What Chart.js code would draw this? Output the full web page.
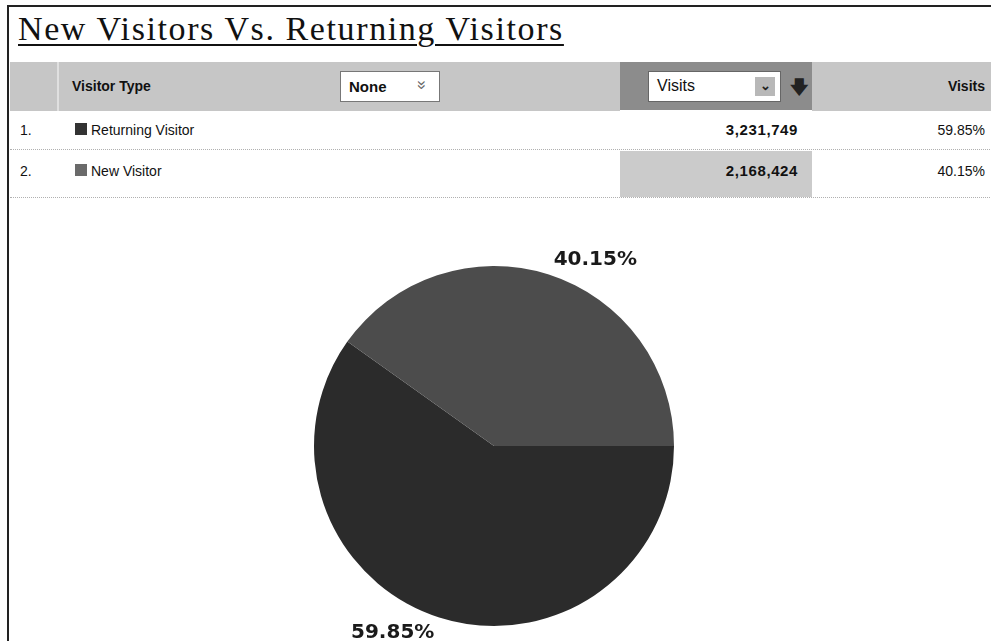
<!DOCTYPE html>
<html>
<head>
<meta charset="utf-8">
<script src="https://cdn.jsdelivr.net/npm/chart.js@4"></script>
<style>
  html, body { margin: 0; padding: 0; background: #fff; width: 991px; height: 641px; overflow: hidden; }
  body { position: relative; font-family: "Liberation Sans", Arial, sans-serif; color: #111; }
  .frame { position: absolute; left: 7px; top: 5px; width: 1000px; height: 700px; border: 2px solid #222; box-sizing: border-box; }
  .title { position: absolute; left: 18px; top: 10px; font-family: "Liberation Serif", "Times New Roman", serif; font-size: 34px; letter-spacing: 1.6px; text-decoration: underline; text-decoration-thickness: 2px; text-underline-offset: 4px; white-space: nowrap; color: #111; }
  .head { position: absolute; left: 10px; top: 62px; width: 990px; height: 49px; background: #c6c6c6; }
  .head .sep { position: absolute; left: 47px; top: 0; width: 2px; height: 49px; background: #e0e0e0; }
  .head .vt { position: absolute; left: 62px; top: 16px; font-weight: bold; font-size: 14px; }
  .sel { position: absolute; background: #fff; border: 1px solid #777; box-sizing: border-box; font-size: 16px; }
  .head .dark { position: absolute; left: 610px; top: 0; width: 192px; height: 49px; background: #8c8c8c; }
  .head .vr { position: absolute; right: 15px; top: 16px; font-weight: bold; font-size: 14px; }
  .row { position: absolute; left: 10px; width: 990px; font-size: 14px; }
  .row .num { position: absolute; left: 10px; }
  .row .sq { position: absolute; left: 65px; width: 12px; height: 12px; }
  .row .lbl { position: absolute; left: 81px; }
  .row .val { position: absolute; left: 610px; width: 192px; top: 0; bottom: 0; text-align: right; box-sizing: border-box; padding-right: 14px; font-weight: bold; font-size: 15px; letter-spacing: 0.6px; }
  .row .pct { position: absolute; right: 15px; }
  .dots { position: absolute; left: 10px; width: 990px; height: 0; border-top: 1px dotted #b0b0b0; }
  #pie { position: absolute; left: 284px; top: 236px; }
</style>
</head>
<body>
<div class="frame"></div>
<div class="title">New Visitors Vs. Returning Visitors</div>

<div class="head">
  <div class="sep"></div>
  <div class="vt">Visitor Type</div>
  <div class="sel" style="left:330px;top:9px;width:100px;height:31px;">
    <span style="position:absolute;left:8px;top:6px;font-weight:bold;font-size:15px;">None</span>
    <span style="position:absolute;left:76px;top:3px;font-size:17px;color:#666;transform:rotate(90deg);display:inline-block;">&raquo;</span>
  </div>
  <div class="dark"></div>
  <div class="sel" style="left:638px;top:9px;width:133px;height:31px;border-color:#666;">
    <span style="position:absolute;left:8px;top:5px;">Visits</span>
    <span style="position:absolute;left:106px;top:5px;width:20px;height:19px;background:#b8b8b8;text-align:center;font-size:13px;font-weight:bold;line-height:17px;color:#222;">&#8964;</span>
  </div>
  <span style="position:absolute;left:780px;top:12px;font-family:'DejaVu Sans',sans-serif;font-size:18px;font-weight:bold;color:#222;">&#129095;</span>
  <div class="vr">Visits</div>
</div>

<div id="rows"></div>
<canvas id="pie" width="420" height="420"></canvas>

<script>
const visitorTypes = ['Returning Visitor', 'New Visitor'];
const visits = [3231749, 2168424];
const visitShare = [59.85, 40.15];
const sliceColors = ['#2b2b2b', '#4c4c4c'];
const squareColors = ['#333333', '#6a6a6a'];
const valueCellColors = ['#ffffff', '#cbcbcb'];
const rowTops = [110, 151];
const rowHeights = [39, 46];

// table rows
const rowsEl = document.getElementById('rows');
visitorTypes.forEach((name, i) => {
  const row = document.createElement('div');
  row.className = 'row';
  row.style.top = rowTops[i] + 'px';
  row.style.height = rowHeights[i] + 'px';
  const t = 12;
  row.innerHTML =
    '<div class="num" style="top:' + t + 'px">' + (i + 1) + '.</div>' +
    '<div class="sq" style="top:' + (t + 1) + 'px;background:' + squareColors[i] + '"></div>' +
    '<div class="lbl" style="top:' + t + 'px">' + name + '</div>' +
    '<div class="val" style="padding-top:' + (t - 1) + 'px;background:' + valueCellColors[i] + '">' + visits[i].toLocaleString('en-US') + '</div>' +
    '<div class="pct" style="top:' + t + 'px">' + visitShare[i].toFixed(2) + '%</div>';
  rowsEl.appendChild(row);
  const d = document.createElement('div');
  d.className = 'dots';
  d.style.top = (rowTops[i] + rowHeights[i]) + 'px';
  rowsEl.appendChild(d);
});

// percentage labels outside the slices
const outsideLabels = {
  id: 'outsideLabels',
  afterDatasetsDraw(chart) {
    const ctx = chart.ctx;
    const meta = chart.getDatasetMeta(0);
    ctx.save();
    ctx.font = 'bold 20px "DejaVu Sans", Verdana, sans-serif';
    ctx.fillStyle = '#1a1a1a';
    ctx.textBaseline = 'middle';
    meta.data.forEach((arc, i) => {
      const p = arc.getProps(['x', 'y', 'startAngle', 'endAngle', 'outerRadius'], true);
      const mid = (p.startAngle + p.endAngle) / 2;
      const r = p.outerRadius + 16;
      const cx = p.x + Math.cos(mid) * r;
      const cy = p.y + Math.sin(mid) * r;
      ctx.textAlign = Math.cos(mid) >= 0 ? 'left' : 'right';
      ctx.fillText(visitShare[i].toFixed(2) + '%', cx, cy);
    });
    ctx.restore();
  }
};

new Chart(document.getElementById('pie'), {
  type: 'pie',
  data: {
    labels: visitorTypes,
    datasets: [{
      data: visits,
      backgroundColor: sliceColors,
      borderWidth: 0
    }]
  },
  options: {
    responsive: false,
    animation: false,
    rotation: 90,
    layout: { padding: 30 },
    plugins: { legend: { display: false }, tooltip: { enabled: false } }
  },
  plugins: [outsideLabels]
});
</script>
</body>
</html>
